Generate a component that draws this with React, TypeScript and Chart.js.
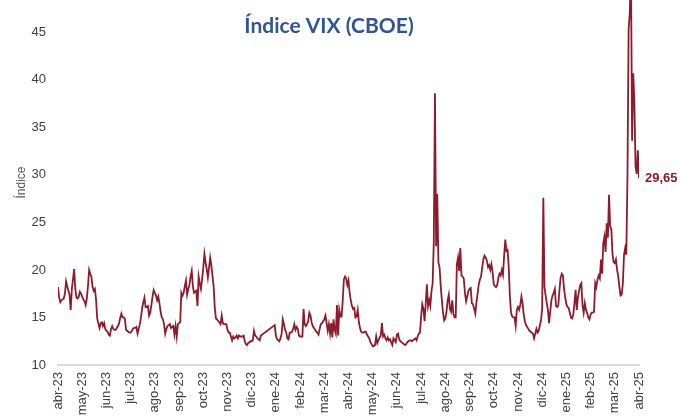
import { useEffect, useRef } from 'react';
import { Chart, registerables } from 'chart.js';

Chart.register(...registerables);

const chartTitle = 'Índice VIX (CBOE)';
const yAxisTitle = 'Índice';
const monthLabels = [
  'abr-23', 'may-23', 'jun-23', 'jul-23', 'ago-23', 'sep-23', 'oct-23', 'nov-23', 'dic-23',
  'ene-24', 'feb-24', 'mar-24', 'abr-24', 'may-24', 'jun-24', 'jul-24', 'ago-24', 'sep-24',
  'oct-24', 'nov-24', 'dic-24', 'ene-25', 'feb-25', 'mar-25', 'abr-25',
];
const SESSIONS_PER_MONTH = 21;

// daily closes, one array per month-interval
const abr23 = [18.2, 17.1, 16.6, 16.8, 16.9, 17.0, 17.5, 18.8, 18.3, 17.8, 17.4, 15.8, 18.0, 19.0, 20.1, 18.0, 17.1, 17.0, 17.2, 17.7, 17.5];
const may23 = [17.2, 16.9, 16.7, 16.3, 17.0, 18.3, 20.0, 19.6, 19.3, 18.2, 17.8, 18.0, 16.9, 14.9, 14.4, 13.9, 14.4, 14.5, 14.1, 14.4, 13.8];
const jun23 = [13.6, 13.5, 13.2, 13.1, 13.8, 14.1, 13.8, 13.7, 13.7, 13.9, 14.1, 14.4, 15.0, 15.4, 15.0, 15.0, 14.9, 13.7, 13.6, 13.5, 13.4];
const jul23 = [13.4, 13.6, 13.8, 13.9, 13.9, 14.0, 13.3, 13.8, 14.3, 15.0, 16.0, 16.6, 17.1, 16.1, 16.1, 16.2, 15.2, 15.5, 16.3, 17.2, 17.9];
const ago23 = [17.6, 17.3, 16.8, 17.2, 16.5, 15.6, 15.0, 14.8, 14.3, 13.3, 13.8, 14.1, 14.2, 14.3, 13.9, 14.0, 14.1, 13.2, 14.1, 13.0, 14.3];
const sep23 = [14.4, 14.5, 17.6, 17.3, 17.6, 18.3, 18.9, 17.4, 18.0, 18.4, 19.3, 19.9, 18.3, 17.6, 17.7, 17.8, 16.2, 19.3, 18.6, 18.0, 19.0];
const oct23 = [20.2, 21.7, 20.8, 20.1, 19.2, 20.2, 21.3, 20.5, 19.4, 18.3, 16.0, 14.9, 14.8, 14.6, 14.5, 14.3, 15.2, 14.4, 14.3, 14.3, 14.3];
const nov23 = [13.7, 13.4, 13.4, 13.0, 12.6, 13.0, 12.8, 12.9, 13.1, 12.8, 13.1, 13.0, 13.0, 13.0, 13.1, 12.5, 12.2, 12.1, 12.3, 12.4, 12.5];
const dic23 = [12.5, 12.6, 13.6, 13.1, 13.0, 12.8, 12.7, 12.6, 13.1, null, null, null, null, null, null, null, null, null, null, null, 14.2];
const ene24 = [13.1, 12.7, 12.6, 12.5, 12.8, 13.3, 14.8, 14.3, 13.7, 13.4, 12.8, 12.7, 13.4, 13.4, 13.5, 13.8, 14.3, 13.7, 14.0, 13.8, 13.1];
const feb24 = [13.0, 13.0, 13.0, 15.9, 14.3, 14.1, 14.3, 14.6, 15.5, 15.2, 14.5, 14.1, 13.9, 13.7, 13.5, 13.4, 13.2, 13.8, 14.3, 14.4, 14.6];
const mar24 = [14.8, 15.2, 14.4, 13.6, 14.3, 13.3, 14.4, 12.9, 14.8, 13.7, 13.3, 16.3, 13.1, 15.8, 15.1, 15.1, 16.8, 19.0, 19.3, 19.1, 18.4];
const abr24 = [18.9, 17.6, 16.8, 16.2, 15.9, 16.0, 15.0, 15.1, 15.8, 14.5, 13.9, 13.5, 13.4, 13.4, 13.5, 13.5, 13.2, 13.0, 12.8, 12.4, 12.2];
const may24 = [12.0, 12.0, 12.1, 13.0, 12.3, 12.6, 12.9, 13.1, 14.4, 13.0, 13.2, 12.8, 12.6, 12.9, 12.6, 12.7, 12.4, 12.1, 12.8, 12.6, 12.4];
const jun24 = [13.2, 13.3, 12.7, 12.5, 12.4, 12.3, 12.2, 12.1, 12.2, 12.4, 12.5, 12.6, 12.6, 12.5, 12.6, 12.7, 12.8, 12.6, 13.0, 13.3, 13.4];
const jul24 = [15.1, 16.4, 15.9, 14.6, 16.5, 18.5, 16.2, 16.8, 16.2, 17.8, 18.6, 23.0, 38.6, 22.5, 28.0, 20.8, 20.3, 18.3, 16.8, 15.5, 14.7];
const ago24 = [14.9, 15.6, 16.8, 17.4, 15.9, 15.6, 16.8, 15.4, 15.0, 15.0, 20.6, 21.3, 19.9, 22.3, 19.4, 19.3, 19.1, 17.6, 16.7, 17.2, 17.8];
const sep24 = [18.0, 18.1, 16.5, 16.4, 15.9, 15.4, 16.6, 17.5, 18.5, 19.0, 19.3, 20.3, 21.1, 21.5, 21.3, 21.0, 20.3, 20.5, 20.0, 20.6, 19.8];
const oct24 = [18.5, 18.3, 18.2, 18.4, 19.2, 19.6, 19.4, 20.0, 19.5, 21.5, 23.2, 22.0, 22.1, 20.3, 17.2, 15.5, 15.1, 15.0, 15.0, 14.1, 15.8];
const nov24 = [16.1, 15.8, 16.3, 17.2, 16.5, 15.3, 14.6, 14.2, 14.0, 13.8, 13.6, 13.5, 13.4, 13.3, 12.8, 13.3, 13.8, 13.4, 13.6, 14.2, 14.7];
const dic24 = [15.9, 27.6, 18.2, 17.3, 16.5, 15.8, 14.4, 15.6, 16.8, 17.3, 17.6, 18.0, 16.2, 16.1, 16.3, 17.9, 19.2, 19.6, 19.4, 18.0, 17.1];
const ene25 = [16.4, 16.1, 16.0, 15.5, 15.0, 14.9, 15.3, 16.5, 17.9, 15.8, 17.1, 17.8, 18.4, 18.6, 16.3, 15.5, 16.5, 15.8, 15.5, 15.0, 14.8];
const feb25 = [15.3, 15.5, 15.5, 15.6, 18.6, 18.2, 19.0, 19.4, 19.1, 21.1, 19.6, 22.8, 23.5, 21.9, 24.9, 23.4, 27.9, 24.6, 24.3, 21.7, 20.8];
const mar25 = [20.7, 21.1, 20.0, 19.3, 18.2, 17.3, 17.4, 18.6, 21.6, 22.3, 21.6, 30.0, 45.3, 47.0, 52.3, 33.6, 40.7, 37.6, 30.9, 30.1, 32.6];
const lastValue = 29.65;
const lastLabel = '29,65';

const series: (number | null)[] = [
  ...abr23, ...may23, ...jun23, ...jul23, ...ago23, ...sep23, ...oct23, ...nov23, ...dic23,
  ...ene24, ...feb24, ...mar24, ...abr24, ...may24, ...jun24, ...jul24, ...ago24, ...sep24,
  ...oct24, ...nov24, ...dic24, ...ene25, ...feb25, ...mar25, lastValue,
];

const LINE_COLOR = '#8E1B2B';
const TITLE_COLOR = '#2F5597';
const TEXT_COLOR = '#404040';

const overlayPlugin = {
  id: 'overlay',
  afterDraw(chart: any) {
    const { ctx, scales } = chart;
    ctx.save();
    ctx.font = 'bold 21px Lato';
    ctx.fillStyle = TITLE_COLOR;
    ctx.textAlign = 'center';
    ctx.textBaseline = 'alphabetic';
    ctx.fillText(chartTitle, 329, 33);
    const lastIdx = series.length - 1;
    const x = scales.x.getPixelForValue(lastIdx) + 6;
    const y = scales.y.getPixelForValue(lastValue);
    ctx.font = 'bold 13px "Liberation Sans", Arial, sans-serif';
    ctx.fillStyle = LINE_COLOR;
    ctx.textAlign = 'left';
    ctx.textBaseline = 'middle';
    ctx.fillText(lastLabel, x, y);
    ctx.restore();
  },
};

export default function App() {
  const canvasRef = useRef<HTMLCanvasElement | null>(null);

  useEffect(() => {
    document.body.style.margin = '0';
    const canvas = canvasRef.current;
    if (!canvas) return;
    const chart = new Chart(canvas, {
      type: 'line',
      data: {
        datasets: [
          {
            data: series.map((v, i) => ({ x: i, y: v })) as any,
            borderColor: LINE_COLOR,
            borderWidth: 1.8,
            pointRadius: 0,
            tension: 0,
            spanGaps: true,
            fill: false,
          },
        ],
      },
      options: {
        animation: false,
        responsive: false,
        devicePixelRatio: 1,
        layout: { padding: { left: 0, right: 42, top: 0, bottom: 0 } },
        plugins: { legend: { display: false }, tooltip: { enabled: false }, title: { display: false } },
        scales: {
          x: {
            type: 'linear',
            min: 0,
            max: series.length - 1,
            afterBuildTicks: (s: any) => {
              s.ticks = monthLabels.map((_, k) => ({ value: k * SESSIONS_PER_MONTH }));
            },
            afterFit: (s: any) => {
              s.height = 53;
              s.paddingLeft = 0;
              s.paddingRight = 0;
            },
            ticks: {
              autoSkip: false,
              maxRotation: 90,
              minRotation: 90,
              padding: 7,
              color: TEXT_COLOR,
              font: { family: '"Liberation Sans", Arial, sans-serif', size: 13 },
              callback: (v: any) => monthLabels[Math.round(Number(v) / SESSIONS_PER_MONTH)] ?? '',
            },
            grid: { display: false, drawTicks: false },
            border: { display: true, color: '#D9D9D9', width: 2 },
          },
          y: {
            min: 10,
            max: 48.4,
            afterBuildTicks: (s: any) => {
              s.ticks = s.ticks.filter((t: any) => Math.abs(t.value % 5) < 1e-6);
            },
            afterFit: (s: any) => {
              s.width = 58;
              s.paddingTop = 0;
              s.paddingBottom = 0;
            },
            ticks: {
              stepSize: 5,
              padding: 12,
              color: TEXT_COLOR,
              font: { family: '"Liberation Sans", Arial, sans-serif', size: 13 },
            },
            grid: { display: false, drawTicks: false },
            border: { display: false },
            title: {
              display: true,
              text: yAxisTitle,
              color: '#595959',
              font: { family: '"Liberation Sans", Arial, sans-serif', size: 12 },
              padding: { top: 14, bottom: 0 },
            },
          },
        },
      },
      plugins: [overlayPlugin],
    });
    return () => chart.destroy();
  }, []);

  return (
    <div style={{ width: 681, height: 418, position: 'relative' }}>
      <canvas ref={canvasRef} width={681} height={418} />
    </div>
  );
}
